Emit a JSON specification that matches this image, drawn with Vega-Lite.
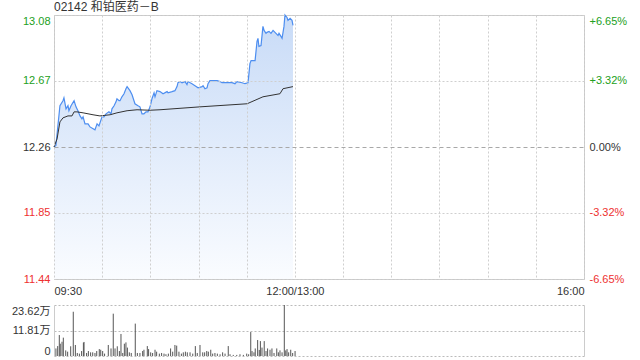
{
  "$schema": "https://vega.github.io/schema/vega-lite/v6.json",
  "padding": {"left": 11, "top": 0, "right": 0, "bottom": 0},
  "background": "#ffffff",
  "bounds": "flush",
  "spacing": 26,
  "config": {
    "font": "Liberation Sans, Noto Sans CJK SC",
    "view": {"stroke": "#c8c8c8"},
    "axis": {"labelFont": "Liberation Sans, Noto Sans CJK SC", "labelFontSize": 11, "labelColor": "#333333", "ticks": false, "domain": false, "title": null}
  },
  "datasets": {
    "price": [
      {"t": 0, "p": 12.26}, {"t": 1.2, "p": 12.27}, {"t": 3.7, "p": 12.515}, {"t": 5.6, "p": 12.546}, {"t": 6.2, "p": 12.564},
      {"t": 7.5, "p": 12.496}, {"t": 8.7, "p": 12.515}, {"t": 9.3, "p": 12.484}, {"t": 10.6, "p": 12.515}, {"t": 12.5, "p": 12.546},
      {"t": 13.7, "p": 12.508}, {"t": 14.9, "p": 12.484}, {"t": 16.2, "p": 12.452}, {"t": 17.4, "p": 12.434}, {"t": 18.1, "p": 12.446},
      {"t": 19.3, "p": 12.403}, {"t": 21.2, "p": 12.403}, {"t": 22.4, "p": 12.384}, {"t": 25.5, "p": 12.366}, {"t": 26.8, "p": 12.403},
      {"t": 28.0, "p": 12.39}, {"t": 29.9, "p": 12.446}, {"t": 31.1, "p": 12.446}, {"t": 32.4, "p": 12.465}, {"t": 34.2, "p": 12.477},
      {"t": 35.5, "p": 12.465}, {"t": 36.1, "p": 12.496}, {"t": 37.4, "p": 12.515}, {"t": 38.6, "p": 12.539}, {"t": 39.2, "p": 12.558},
      {"t": 40.5, "p": 12.546}, {"t": 41.1, "p": 12.546}, {"t": 42.3, "p": 12.57}, {"t": 43.6, "p": 12.589}, {"t": 44.8, "p": 12.62},
      {"t": 45.5, "p": 12.633}, {"t": 47.3, "p": 12.608}, {"t": 48.6, "p": 12.583}, {"t": 49.8, "p": 12.546}, {"t": 50.4, "p": 12.527},
      {"t": 52.3, "p": 12.515}, {"t": 53.5, "p": 12.508}, {"t": 54.8, "p": 12.465}, {"t": 56.0, "p": 12.465}, {"t": 57.3, "p": 12.477},
      {"t": 58.5, "p": 12.477}, {"t": 59.8, "p": 12.508}, {"t": 61.0, "p": 12.558}, {"t": 62.3, "p": 12.595}, {"t": 62.9, "p": 12.57},
      {"t": 64.1, "p": 12.608}, {"t": 66.0, "p": 12.602}, {"t": 67.9, "p": 12.589}, {"t": 70.4, "p": 12.602}, {"t": 71.0, "p": 12.595},
      {"t": 73.5, "p": 12.602}, {"t": 75.3, "p": 12.608}, {"t": 76.6, "p": 12.633}, {"t": 77.2, "p": 12.657}, {"t": 78.5, "p": 12.664},
      {"t": 79.7, "p": 12.657}, {"t": 81.6, "p": 12.664}, {"t": 82.8, "p": 12.645}, {"t": 83.4, "p": 12.664}, {"t": 85.9, "p": 12.651},
      {"t": 87.8, "p": 12.639}, {"t": 89.7, "p": 12.626}, {"t": 92.2, "p": 12.633}, {"t": 92.8, "p": 12.639}, {"t": 94.0, "p": 12.62},
      {"t": 95.3, "p": 12.626}, {"t": 95.9, "p": 12.651}, {"t": 97.1, "p": 12.67}, {"t": 99.0, "p": 12.67}, {"t": 101.5, "p": 12.67},
      {"t": 103.4, "p": 12.664}, {"t": 104.6, "p": 12.657}, {"t": 106.5, "p": 12.657}, {"t": 110.8, "p": 12.657}, {"t": 112.7, "p": 12.651},
      {"t": 113.9, "p": 12.664}, {"t": 117.1, "p": 12.657}, {"t": 118.9, "p": 12.651}, {"t": 120.8, "p": 12.657}, {"t": 122.0, "p": 12.775},
      {"t": 122.7, "p": 12.794}, {"t": 123.9, "p": 12.794}, {"t": 125.2, "p": 12.794}, {"t": 126.4, "p": 12.912}, {"t": 127.0, "p": 12.931},
      {"t": 127.6, "p": 12.881}, {"t": 128.9, "p": 12.887}, {"t": 130.1, "p": 13.005}, {"t": 130.8, "p": 12.98}, {"t": 132.0, "p": 12.962},
      {"t": 132.6, "p": 12.968}, {"t": 133.9, "p": 12.974}, {"t": 135.1, "p": 12.962}, {"t": 136.4, "p": 12.98}, {"t": 137.0, "p": 12.974},
      {"t": 138.2, "p": 12.962}, {"t": 139.5, "p": 12.949}, {"t": 140.1, "p": 12.962}, {"t": 141.3, "p": 12.943}, {"t": 142.0, "p": 12.931},
      {"t": 143.2, "p": 13.005}, {"t": 143.8, "p": 13.075}, {"t": 145.1, "p": 13.06}, {"t": 145.7, "p": 13.042}, {"t": 147.0, "p": 13.055},
      {"t": 148.2, "p": 13.042}, {"t": 148.8, "p": 13.011}
    ],
    "avg": [
      {"t": 0, "a": 12.26}, {"t": 1.9, "a": 12.31}, {"t": 3.7, "a": 12.415}, {"t": 5.6, "a": 12.44}, {"t": 8.7, "a": 12.452},
      {"t": 11.2, "a": 12.452}, {"t": 12.5, "a": 12.477}, {"t": 14.3, "a": 12.477}, {"t": 18.1, "a": 12.471}, {"t": 24.3, "a": 12.459},
      {"t": 28.6, "a": 12.452}, {"t": 34.9, "a": 12.459}, {"t": 39.2, "a": 12.471}, {"t": 45.5, "a": 12.484}, {"t": 51.7, "a": 12.49},
      {"t": 59.8, "a": 12.487}, {"t": 66.0, "a": 12.49}, {"t": 90.9, "a": 12.508}, {"t": 120.2, "a": 12.527}, {"t": 130.1, "a": 12.57},
      {"t": 140.7, "a": 12.589}, {"t": 142.6, "a": 12.62}, {"t": 148.8, "a": 12.633}
    ],
    "vol": [
      {"t": 1.2, "v": 3.5}, {"t": 2.3, "v": 4.6}, {"t": 3.3, "v": 9.7}, {"t": 3.9, "v": 5.7}, {"t": 5.0, "v": 6.6},
      {"t": 5.8, "v": 8.5}, {"t": 7.3, "v": 2.6}, {"t": 8.5, "v": 2.0}, {"t": 10.4, "v": 4.5}, {"t": 12.0, "v": 20.5},
      {"t": 13.3, "v": 5.1}, {"t": 14.5, "v": 1.4}, {"t": 15.8, "v": 1.1}, {"t": 17.2, "v": 2.3}, {"t": 18.3, "v": 6.2},
      {"t": 18.7, "v": 6.5}, {"t": 20.3, "v": 1.4}, {"t": 21.4, "v": 2.3}, {"t": 22.8, "v": 1.7}, {"t": 24.1, "v": 1.7},
      {"t": 25.5, "v": 1.4}, {"t": 26.6, "v": 2.3}, {"t": 28.2, "v": 3.2}, {"t": 29.1, "v": 2.9}, {"t": 30.3, "v": 2.3},
      {"t": 31.5, "v": 1.1}, {"t": 33.8, "v": 5.1}, {"t": 35.5, "v": 3.5}, {"t": 36.9, "v": 19.6}, {"t": 38.0, "v": 3.5},
      {"t": 39.4, "v": 4.5}, {"t": 40.7, "v": 2.3}, {"t": 41.7, "v": 10.2}, {"t": 42.8, "v": 1.4}, {"t": 43.8, "v": 5.7},
      {"t": 44.8, "v": 6.3}, {"t": 45.7, "v": 3.9}, {"t": 46.9, "v": 1.7}, {"t": 48.1, "v": 1.4}, {"t": 50.6, "v": 15.0},
      {"t": 51.9, "v": 1.4}, {"t": 53.5, "v": 1.4}, {"t": 55.2, "v": 2.3}, {"t": 56.0, "v": 2.9}, {"t": 58.1, "v": 4.6},
      {"t": 58.9, "v": 3.2}, {"t": 60.2, "v": 1.7}, {"t": 61.4, "v": 1.4}, {"t": 62.9, "v": 2.9}, {"t": 63.9, "v": 2.0},
      {"t": 65.6, "v": 1.1}, {"t": 67.0, "v": 1.4}, {"t": 68.5, "v": 1.1}, {"t": 69.7, "v": 0.8}, {"t": 71.2, "v": 1.1},
      {"t": 72.6, "v": 3.5}, {"t": 73.9, "v": 2.0}, {"t": 75.3, "v": 5.1}, {"t": 76.4, "v": 4.8}, {"t": 77.8, "v": 2.0},
      {"t": 79.3, "v": 1.1}, {"t": 80.5, "v": 1.7}, {"t": 81.8, "v": 2.0}, {"t": 83.0, "v": 1.7}, {"t": 84.7, "v": 1.7},
      {"t": 86.4, "v": 1.1}, {"t": 88.0, "v": 4.6}, {"t": 89.2, "v": 1.4}, {"t": 90.9, "v": 5.1}, {"t": 92.6, "v": 1.7},
      {"t": 93.8, "v": 1.7}, {"t": 95.1, "v": 2.3}, {"t": 96.1, "v": 2.0}, {"t": 97.6, "v": 2.9}, {"t": 98.8, "v": 1.1},
      {"t": 100.2, "v": 1.4}, {"t": 101.7, "v": 1.1}, {"t": 103.4, "v": 0.8}, {"t": 105.0, "v": 1.7}, {"t": 106.5, "v": 1.1},
      {"t": 108.5, "v": 4.6}, {"t": 109.6, "v": 0.8}, {"t": 111.6, "v": 0.5}, {"t": 113.8, "v": 0.5}, {"t": 115.8, "v": 0.8},
      {"t": 117.9, "v": 0.5}, {"t": 120.0, "v": 1.1}, {"t": 121.2, "v": 0.8}, {"t": 122.5, "v": 11.1}, {"t": 123.3, "v": 2.3},
      {"t": 124.5, "v": 1.7}, {"t": 125.3, "v": 3.5}, {"t": 126.8, "v": 7.4}, {"t": 127.8, "v": 2.8}, {"t": 128.5, "v": 6.9},
      {"t": 129.5, "v": 3.9}, {"t": 130.9, "v": 6.9}, {"t": 132.0, "v": 2.3}, {"t": 133.0, "v": 3.5}, {"t": 134.5, "v": 2.9},
      {"t": 135.7, "v": 3.5}, {"t": 137.0, "v": 1.4}, {"t": 138.7, "v": 3.5}, {"t": 139.7, "v": 1.7}, {"t": 140.7, "v": 2.6},
      {"t": 142.0, "v": 1.7}, {"t": 143.4, "v": 23.62}, {"t": 144.3, "v": 2.6}, {"t": 145.1, "v": 3.2}, {"t": 146.1, "v": 1.7},
      {"t": 147.4, "v": 2.9}, {"t": 148.6, "v": 1.4}, {"t": 150.1, "v": 2.3}
    ]
  },
  "vconcat": [
    {
      "width": 530,
      "height": 264,
      "title": {"text": "02142 和铂医药－B", "anchor": "start", "frame": "group", "offset": -1, "fontSize": 12, "fontWeight": "normal", "color": "#333333", "font": "Liberation Sans, Noto Sans CJK SC"},
      "resolve": {"axis": {"y": "independent"}},
      "layer": [
        {
          "data": {"name": "price"},
          "mark": {"type": "area", "fill": {"gradient": "linear", "x1": 0, "y1": 0, "x2": 0, "y2": 1, "stops": [{"offset": 0, "color": "#c8dbf7"}, {"offset": 1, "color": "#fafcff"}]}},
          "encoding": {
            "x": {"field": "t", "type": "quantitative", "scale": {"domain": [0, 330], "nice": false, "zero": false},
              "axis": {"zindex": 1, "values": [0, 30, 60, 90, 120, 150, 180, 210, 240, 270, 300, 330], "labelExpr": "datum.value == 0 ? '09:30' : datum.value == 150 ? '12:00/13:00' : datum.value == 330 ? '16:00' : ''", "labelFlush": true, "labelPadding": 6, "grid": true, "gridDash": [2, 2], "gridColor": "#cfcfcf"}},
            "y": {"field": "p", "type": "quantitative", "scale": {"domain": [11.4447, 13.0753], "nice": false, "zero": false},
              "axis": {"zindex": 1, "orient": "left", "values": [11.4447, 11.8524, 12.26, 12.6677, 13.0753], "format": ".2f", "labelPadding": 4, "grid": true,
                "gridDash": {"condition": {"test": "datum.value == 12.26", "value": [4, 3]}, "value": [2, 2]},
                "gridColor": {"condition": {"test": "datum.value == 12.26", "value": "#a8a8a8"}, "value": "#cfcfcf"},
                "labelColor": {"condition": [{"test": "datum.value > 12.27", "value": "#22a022"}, {"test": "datum.value < 12.25", "value": "#ee3030"}], "value": "#333333"},
                "labelBaseline": {"condition": {"test": "datum.value > 13", "value": "top"}, "value": "middle"}}},
            "y2": {"datum": 11.4447}
          }
        },
        {
          "data": {"name": "price"},
          "mark": {"type": "line", "color": "#4d8ef0", "strokeWidth": 1.2},
          "encoding": {
            "x": {"field": "t", "type": "quantitative"},
            "y": {"field": "p", "type": "quantitative", "axis": null}
          }
        },
        {
          "data": {"name": "avg"},
          "mark": {"type": "line", "color": "#333333", "strokeWidth": 1},
          "encoding": {
            "x": {"field": "t", "type": "quantitative"},
            "y": {"field": "a", "type": "quantitative",
              "axis": {"orient": "right", "values": [11.4447, 11.8524, 12.26, 12.6677, 13.0753], "labelPadding": 5, "grid": false,
                "labelExpr": "datum.value > 13 ? '+6.65%' : datum.value > 12.5 ? '+3.32%' : datum.value > 12.2 ? '0.00%' : datum.value > 11.6 ? '-3.32%' : '-6.65%'",
                "labelColor": {"condition": [{"test": "datum.value > 12.27", "value": "#22a022"}, {"test": "datum.value < 12.25", "value": "#ee3030"}], "value": "#333333"},
                "labelBaseline": {"condition": {"test": "datum.value > 13", "value": "top"}, "value": "middle"}}}
          }
        },
        {
          "mark": {"type": "text", "text": "01-07 12:30", "align": "right", "baseline": "bottom", "dy": -2, "fontSize": 11, "color": "#333333"},
          "encoding": {
            "x": {"datum": 330, "type": "quantitative"},
            "y": {"datum": 13.0753, "type": "quantitative", "axis": null}
          }
        },
        {
          "mark": {"type": "text", "text": "sina.com", "align": "right", "baseline": "bottom", "dy": -2, "fontSize": 12, "color": "#cccccc"},
          "encoding": {
            "x": {"datum": 324, "type": "quantitative"},
            "y": {"datum": 11.4447, "type": "quantitative", "axis": null}
          }
        }
      ]
    },
    {
      "width": 530,
      "height": 51,
      "view": {"stroke": null},
      "resolve": {"axis": {"y": "independent"}},
      "data": {"name": "vol"},
      "layer": [
        {
          "mark": {"type": "rule", "color": "#555555", "strokeWidth": 1},
          "encoding": {
            "x": {"field": "t", "type": "quantitative", "scale": {"domain": [0, 330], "nice": false, "zero": false}, "axis": null},
            "y": {"field": "v", "type": "quantitative", "scale": {"domain": [0, 23.62], "nice": false},
              "axis": {"orient": "left", "values": [0, 11.81, 23.62], "labelExpr": "datum.value == 0 ? '0' : format(datum.value, '.2f') + '万'", "labelFlush": true, "labelPadding": 4, "grid": true, "gridDash": [2, 2], "gridColor": "#bbbbbb", "domain": true, "domainColor": "#cccccc"}},
            "y2": {"datum": 0}
          }
        },
        {
          "mark": {"type": "rule", "color": "#555555", "strokeWidth": 1, "opacity": 0},
          "encoding": {
            "x": {"field": "t", "type": "quantitative"},
            "y": {"field": "v", "type": "quantitative", "axis": {"orient": "right", "labels": false, "grid": false, "domain": true, "domainColor": "#cccccc"}}
          }
        }
      ]
    }
  ]
}
